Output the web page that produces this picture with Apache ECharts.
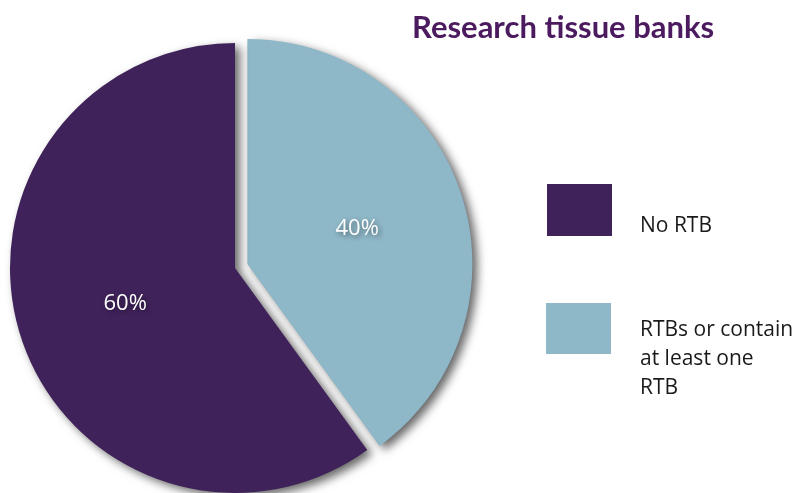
<!DOCTYPE html>
<html>
<head>
<meta charset="utf-8">
<script src="https://cdn.jsdelivr.net/npm/echarts@6/dist/echarts.min.js"></script>
<style>html,body{margin:0;padding:0;background:#fff}#c{width:800px;height:493px}</style>
</head>
<body>
<div id="c"></div>
<script>
const titleText = 'Research tissue banks';
const categories = ['RTBs or contain at least one RTB', 'No RTB'];
const legendLabels = ['No RTB', 'RTBs or contain\nat least one\nRTB'];
const values = [40, 60];
const colors = ['#8eb7c7', '#40225a'];
const legendColors = ['#40225a', '#8eb7c7'];

const chart = echarts.init(document.getElementById('c'), null, {renderer: 'canvas'});
const option = {
  animation: false,
  title: {
    text: titleText,
    left: 407,
    top: 7,
    textStyle: {fontFamily: 'Lato', fontWeight: 'bold', fontSize: 31, color: '#4b1a5f'}
  },
  series: [{
    type: 'pie',
    center: [235, 268],
    radius: [0, 225],
    startAngle: 90,
    clockwise: true,
    selectedMode: 'single',
    selectedOffset: 13,
    data: categories.map((c, i) => ({
      name: c,
      value: values[i],
      selected: i === 0,
      itemStyle: {color: colors[i]}
    })),
    itemStyle: {
      shadowBlur: 10,
      shadowColor: 'rgba(0,0,0,0.6)',
      shadowOffsetX: 5,
      shadowOffsetY: 4
    },
    label: {
      show: true,
      position: 'inside',
      formatter: p => p.value + '%',
      color: '#fff',
      fontFamily: 'Open Sans',
      fontSize: 22,
      textShadowColor: 'rgba(0,0,0,0.45)',
      textShadowBlur: 5,
      textShadowOffsetX: 2,
      textShadowOffsetY: 2
    },
    labelLine: {show: false},
    emphasis: {disabled: true}
  }],
  graphic: [
    {type: 'rect', shape: {x: 547, y: 184, width: 65, height: 52}, style: {fill: legendColors[0]}},
    {type: 'rect', shape: {x: 546, y: 303, width: 65, height: 51}, style: {fill: legendColors[1]}},
    {type: 'text', left: 640, top: 212, style: {text: legendLabels[0], fontFamily: 'Open Sans', fontSize: 21, lineHeight: 29, fill: '#1a1a1a'}},
    {type: 'text', left: 640, top: 316, style: {text: legendLabels[1], fontFamily: 'Open Sans', fontSize: 21, lineHeight: 29, fill: '#1a1a1a'}}
  ]
};
chart.setOption(option);
</script>
</body>
</html>
